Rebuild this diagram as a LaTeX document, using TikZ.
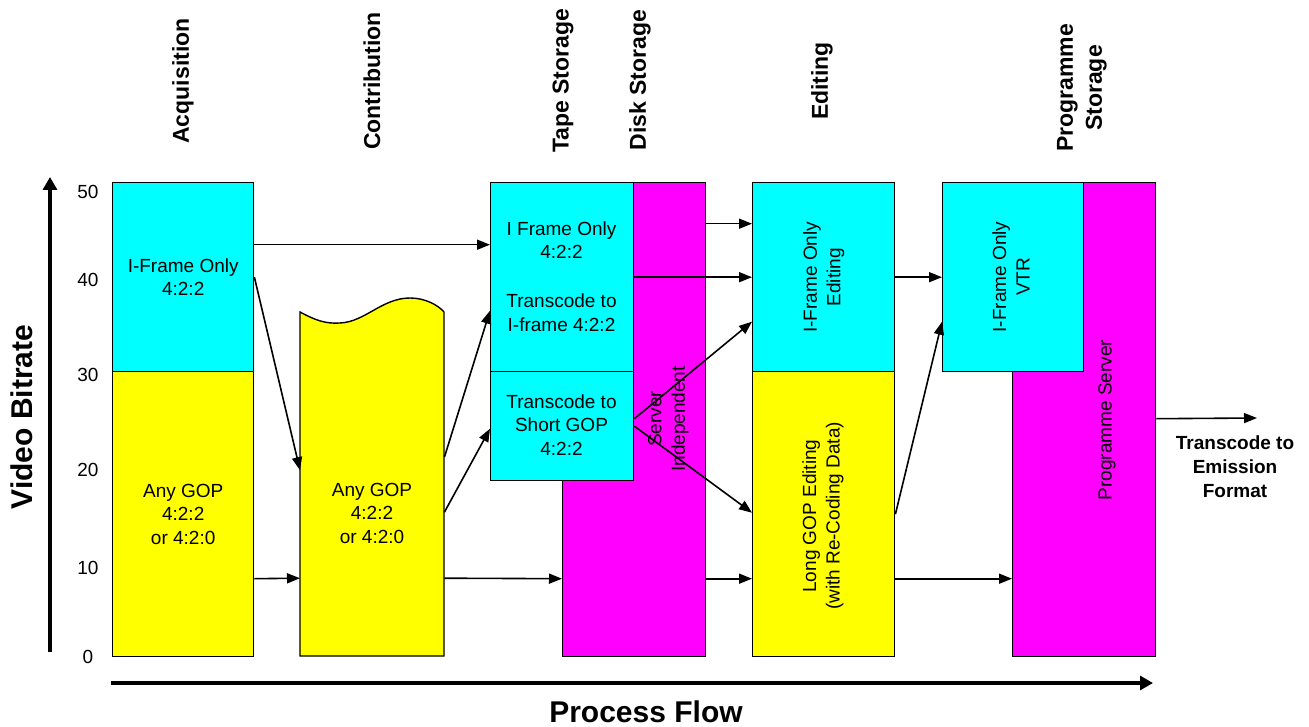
\documentclass[tikz,border=0pt]{standalone}
\usepackage{fontspec}
\setmainfont{Liberation Sans}
\usetikzlibrary{arrows.meta}
\definecolor{cy}{RGB}{0,255,255}
\definecolor{ye}{RGB}{255,255,0}
\definecolor{ma}{RGB}{255,0,255}
\begin{document}
\begin{tikzpicture}[x=1pt,y=-1pt,
  box/.style={draw=black, line width=1.4pt, inner sep=0pt, anchor=north west},
  txt/.style={align=center, inner sep=0pt, font=\fontsize{19}{23.5}\selectfont},
  btxt/.style={align=center, inner sep=0pt, font=\fontsize{19}{24}\selectfont\bfseries},
  head/.style={align=center, inner sep=0pt, rotate=90, font=\fontsize{23}{29}\selectfont\bfseries},
  big/.style={inner sep=0pt, font=\fontsize{30}{36}\selectfont\bfseries},
  tick/.style={inner sep=0pt, font=\fontsize{19}{23}\selectfont},
  arr/.style={line width=1.6pt, -{Triangle[length=13pt,width=10pt]}},
  axisarr/.style={line width=3.2pt, -{Triangle[length=13pt,width=14pt]}}
]
\useasboundingbox (0,0) rectangle (1309,727);

% headers
\node[head] (hAcq) at (183,81) {Acquisition};
\node[head] (hCon) at (372,81) {Contribution};
\node[head] (hTape) at (563,81) {Tape Storage};
\node[head] (hDisk) at (640,80) {Disk Storage};
\node[head] (hEdit) at (822,81) {Editing};
\node[head] (hProg) at (1082,88) {Programme\\Storage};

% axes
\coordinate (vA) at (50,652);
\coordinate (vB) at (50,177);
\coordinate (hA) at (111,683);
\coordinate (hB) at (1153,683);
\draw[axisarr] (vA) -- (vB);
\draw[axisarr] (hA) -- (hB);
\node[big, rotate=90] (vlab) at (22,417) {Video Bitrate};
\node[big, anchor=base] (hlab) at (646,722) {Process Flow};

% ticks
\node[tick] (t50) at (88,192) {50};
\node[tick] (t40) at (88,280) {40};
\node[tick] (t30) at (88,375) {30};
\node[tick] (t20) at (88,470) {20};
\node[tick] (t10) at (88,568) {10};
\node[tick] (t0)  at (88,657) {0};

% acquisition
\node[box, fill=cy, minimum width=141pt, minimum height=189pt] (acqI) at (112,182) {};
\node[box, fill=ye, minimum width=141pt, minimum height=285pt] (acqG) at (112,371) {};
\node[txt] (acqIt) at (acqI.center) {I-Frame Only\\4:2:2};
\node[txt] (acqGt) at (acqG.center) {Any GOP\\4:2:2\\or 4:2:0};

% contribution
\draw[line width=1.4pt, fill=ye] (300,656) -- (300,312)
  .. controls (315,320) and (325,324) .. (340,323)
  .. controls (365,322) and (382,298) .. (410,298)
  .. controls (425,298) and (438,305) .. (444,312) -- (444,656) -- cycle;
\node[inner sep=0pt, anchor=north west, minimum width=144pt, minimum height=344pt] (contrib) at (300,312) {};
\node[txt] (contribt) at (372,513) {Any GOP\\4:2:2\\or 4:2:0};

% disk storage
\node[box, fill=ma, minimum width=143pt, minimum height=474pt] (disk) at (562,182) {};
\node[txt, rotate=90] (diskt) at (668.5,419) {Server\\Independent};

% tape storage
\node[box, fill=cy, minimum width=143pt, minimum height=189pt] (tapeI) at (490,182) {};
\node[box, fill=cy, minimum width=143pt, minimum height=109pt] (tapeS) at (490,371) {};
\node[txt] (tapeIt1) at (561.5,240) {I Frame Only\\4:2:2};
\node[txt] (tapeIt2) at (561.5,312.5) {Transcode to\\I-frame 4:2:2};
\node[txt] (tapeSt) at (561.5,425) {Transcode to\\Short GOP\\4:2:2};

% editing
\node[box, fill=cy, minimum width=142pt, minimum height=189pt] (editI) at (752,182) {};
\node[box, fill=ye, minimum width=142pt, minimum height=285pt] (editG) at (752,371) {};
\node[txt, rotate=90] (editIt) at (editI.center) {I-Frame Only\\Editing};
\node[txt, rotate=90] (editGt) at (823,516) {Long GOP Editing\\(with Re-Coding Data)};

% programme storage
\node[box, fill=ma, minimum width=143pt, minimum height=474pt] (progS) at (1012,182) {};
\node[box, fill=cy, minimum width=141pt, minimum height=189pt] (vtr) at (942,182) {};
\node[txt, rotate=90] (vtrt) at (1011,277) {I-Frame Only\\VTR};
\node[txt, rotate=90] (progSt) at (1107,420) {Programme Server};

% emission
\coordinate (emis) at (1257,418);
\node[btxt] (emist) at (1235,467) {Transcode to\\Emission\\Format};

% connectors
\draw[arr] ([yshift=32.5pt]acqI.east) -- ([yshift=32.5pt]tapeI.west);
\draw[arr] (acqI.east) -- ([yshift=14pt]contrib.west);
\draw[arr] ([yshift=-64.5pt]acqG.east) -- ([yshift=-94pt]contrib.west);
\draw[arr] ([yshift=27pt]contrib.east) -- ([yshift=-33.5pt]tapeI.west);
\draw[arr] ([yshift=-28pt]contrib.east) -- ([yshift=-2.5pt]tapeS.west);
\draw[arr] ([yshift=-94pt]contrib.east) -- ([yshift=-159pt]disk.west);
\draw[arr] ([yshift=196pt]disk.east) -- ([yshift=53.5pt]editI.west);
\draw[arr] (tapeI.east) -- (editI.west);
\draw[arr] ([yshift=7.5pt]tapeS.east) -- ([yshift=-44.5pt]editI.west);
\draw[arr] (tapeS.east) -- ([yshift=1.5pt]editG.west);
\draw[arr] ([yshift=-159pt]disk.east) -- ([yshift=-64.5pt]editG.west);
\draw[arr] (editI.east) -- (vtr.west);
\draw[arr] (editG.east) -- ([yshift=-44.5pt]vtr.west);
\draw[arr] ([yshift=-64.5pt]editG.east) -- ([yshift=-159pt]progS.west);
\draw[arr] ([yshift=1pt]progS.east) -- (emis);
\end{tikzpicture}
\end{document}
